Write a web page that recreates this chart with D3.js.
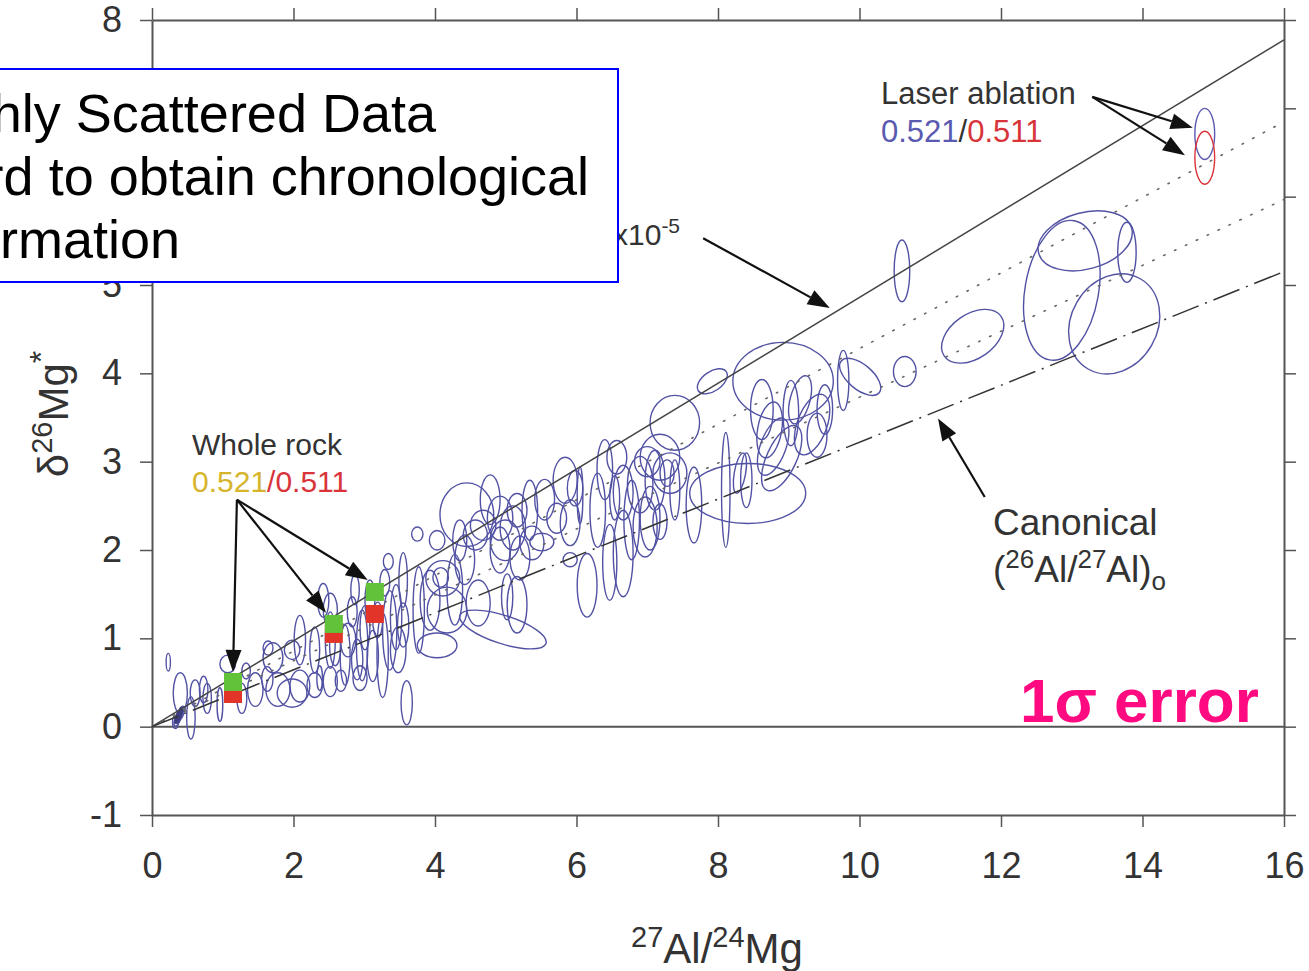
<!DOCTYPE html>
<html>
<head>
<meta charset="utf-8">
<script src="https://cdn.jsdelivr.net/npm/d3@7"></script>
<style>
body { margin: 0; background: #fff; }
svg { display: block; font-family: "Liberation Sans", Arial, Helvetica, sans-serif; }
</style>
</head>
<body>
<script>
// axis ticks
var xTicks = [0, 2, 4, 6, 8, 10, 12, 14, 16];
var yTicks = [-1, 0, 1, 2, 3, 4, 5, 6, 7, 8];

// individual CAI analyses, 1 sigma error ellipses (27Al/24Mg, d26Mg*)
var ellX = [0.37,0.41,0.33,0.23,0.40,0.55,0.61,0.73,0.78,0.96,1.07,1.33,1.46,1.27,1.63,1.71,1.64,1.78,1.98,1.98,
  2.09,2.30,2.30,2.42,2.52,2.37,2.52,2.67,2.77,2.90,2.94,3.01,3.12,3.26,3.34,3.29,3.45,3.55,3.60,3.48,2.59,2.83,3.19,
  4.45,3.75,4.03,3.55,3.77,4.11,4.08,4.17,4.03,4.35,4.57,4.68,4.61,4.96,4.92,5.10,5.16,4.92,5.20,5.16,5.02,5.37,5.51,
  5.72,5.84,5.98,5.91,6.05,5.91,6.15,6.30,6.57,6.47,6.54,6.66,6.66,6.90,7.00,6.97,
  7.92,7.39,8.92,7.18,7.32,7.28,7.39,7.18,7.04,7.66,8.42,8.11,8.31,8.62,8.78,8.90,9.03,9.33,9.40,9.77,10.01,10.64,8.40,
  10.60,11.60,12.86,13.19,13.78,13.60,
  2.73,2.97,3.36,3.08,2.87,3.93,4.28,4.42,4.78,5.34,5.55,4.99,6.40,6.78,7.11,9.16,8.73,9.51,2.09,2.52];
var ellY = [0.10,0.155,0.05,0.73,0.38,0.10,0.38,0.42,0.32,0.25,0.71,0.63,0.42,0.32,0.54,0.78,0.89,0.42,0.38,0.87,
  0.46,0.47,0.87,1.43,1.32,0.55,0.51,0.52,0.98,0.76,0.55,1.12,0.80,0.81,1.87,1.63,1.24,1.15,0.27,0.87,0.92,1.30,1.21,
  2.40,2.18,2.11,1.66,1.32,1.68,1.69,1.32,0.92,2.11,2.17,2.28,1.40,1.10,2.36,2.25,2.45,2.00,1.91,1.38,1.47,2.08,2.09,
  2.36,2.79,2.70,2.31,2.62,1.89,1.60,2.45,3.05,1.86,2.59,2.65,1.96,2.74,3.00,2.26,
  3.91,3.44,3.91,3.05,2.87,2.87,2.68,2.32,2.36,2.51,2.64,2.68,2.87,3.59,3.17,3.04,3.55,3.42,3.30,3.92,3.96,4.02,2.79,
  5.16,4.42,4.94,5.50,5.37,4.56,
  0.81,0.92,1.09,1.43,1.55,1.43,1.55,1.89,2.57,2.45,2.57,2.11,2.91,2.34,2.79,3.70,3.36,3.59,0.98,0.98];
var ellSx = [.04,.04,.04,.03,.10,.06,.07,.06,.06,.04,.11,.06,.11,.07,.08,.14,.07,.17,.21,.11,
  .14,.11,.07,.08,.10,.04,.10,.08,.11,.08,.10,.07,.08,.08,.07,.07,.08,.08,.08,.11,.08,.07,.07,
  .38,.08,.11,.06,.08,.24,.11,.28,.28,.10,.17,.18,.17,.64,.18,.18,.14,.14,.14,.14,.08,.17,.17,
  .14,.17,.11,.14,.04,.10,.14,.11,.14,.10,.07,.14,.14,.18,.18,.17,
  .24,.35,.71,.28,.24,.10,.07,.10,.14,.11,.82,.06,.08,.16,.18,.21,.11,.21,.14,.08,.35,.16,.08,
  .11,.49,.52,.68,.13,.61,
  .07,.08,.10,.07,.06,.14,.11,.14,.14,.11,.14,.21,.11,.11,.14,.14,.17,.11,.08,.07];
var ellSy = [.10,.08,.07,.10,.23,.24,.15,.15,.17,.19,.10,.09,.19,.17,.14,.17,.08,.19,.16,.11,
  .18,.14,.26,.19,.19,.14,.17,.12,.19,.23,.14,.25,.29,.48,.09,.15,.37,.25,.25,.26,.23,.17,.20,
  .36,.08,.11,.31,.49,.20,.11,.26,.14,.23,.17,.17,.26,.16,.25,.25,.19,.26,.25,.32,.26,.19,.10,
  .17,.26,.20,.26,.32,.08,.36,.42,.19,.43,.25,.31,.49,.32,.17,.34,
  .11,.31,.44,.26,.23,.15,.34,.20,.36,.43,.34,.65,.23,.34,.34,.40,.37,.36,.25,.34,.14,.17,.31,
  .35,.25,.80,.32,.34,.59,
  .34,.40,.45,.23,.17,.34,.40,.28,.28,.34,.23,.23,.34,.45,.34,.28,.32,.28,.28,.32];
var ellRot = [20,20,0,0,0,0,0,0,0,0,0,0,0,0,0,0,0,0,0,0,
  0,0,0,0,0,0,0,0,0,0,0,0,0,0,0,0,0,0,0,0,0,0,0,
  0,0,0,0,0,0,0,0,0,0,0,0,0,18,0,0,0,0,0,0,0,0,0,
  0,0,0,0,0,0,0,0,0,0,0,0,0,0,0,0,
  -35,0,0,0,0,0,0,0,0,0,0,0,10,0,20,25,0,20,0,0,40,0,0,
  0,-35,10,-15,0,30,
  0,0,0,0,0,0,0,0,0,0,0,0,0,0,0,15,10,0,0,0];

// dense cluster near the origin
var blobX = [0.37, 0.40];
var blobY = [0.11, 0.16];
var blobSx = [0.035, 0.03];
var blobSy = [0.08, 0.06];

// laser ablation analyses (blue / red)
var laserX = [14.88, 14.88];
var laserY = [6.71, 6.44];
var laserSx = [0.14, 0.14];
var laserSy = [0.29, 0.30];
var laserColor = ["#5a5ab0", "#d8343a"];

// whole rock points
var wrX = [1.145, 2.57, 3.15];
var wrRed = [0.37, 1.05, 1.276];
var wrGreen = [0.506, 1.163, 1.525];

// reference isochrons through the origin (slopes)
var isoSlope = [0.486, 0.428, 0.373, 0.322];
var isoDash = [null, "1.5,10.5", "1.5,10.5", "28,7,2,7"];
var isoColor = ["#444", "#666", "#666", "#333"];

// annotation arrows [x1, y1, x2, y2] in data units
var arrows = [
  [7.79, 5.53, 9.58, 4.74],
  [13.29, 7.13, 14.71, 6.78],
  [13.29, 7.13, 14.60, 6.47],
  [1.20, 2.57, 1.145, 0.62],
  [1.20, 2.57, 2.46, 1.29],
  [1.20, 2.57, 3.05, 1.66],
  [11.77, 2.60, 11.11, 3.49]
];

var W = 1309, H = 971;
var svg = d3.select("body").append("svg")
    .attr("width", W)
    .attr("height", H);

var x = d3.scaleLinear().domain([0, 16]).range([152, 1284]);
var y = d3.scaleLinear().domain([-1, 8]).range([815, 20]);

function styleAxis(g) {
    g.attr("font-family", null).attr("font-size", 36);
    g.selectAll("path.domain").attr("stroke", "#555").attr("stroke-width", 2);
    g.selectAll(".tick line").attr("stroke", "#555").attr("stroke-width", 1.5);
    g.selectAll(".tick text").attr("fill", "#333");
}

svg.append("g")
    .attr("transform", "translate(0," + y(-1) + ")")
    .call(d3.axisBottom(x).tickValues(xTicks).tickSize(12).tickSizeOuter(0).tickPadding(25))
    .call(styleAxis);
svg.append("g")
    .attr("transform", "translate(0," + y(8) + ")")
    .call(d3.axisTop(x).tickValues(xTicks).tickSize(12).tickSizeOuter(0).tickFormat(""))
    .call(styleAxis);
svg.append("g")
    .attr("transform", "translate(" + x(0) + ",0)")
    .call(d3.axisLeft(y).tickValues(yTicks).tickSize(12).tickSizeOuter(0).tickPadding(18)
        .tickFormat(function(d) { return String(d); }))
    .call(styleAxis);
svg.append("g")
    .attr("transform", "translate(" + x(16) + ",0)")
    .call(d3.axisRight(y).tickValues(yTicks).tickSize(12).tickSizeOuter(0).tickFormat(""))
    .call(styleAxis);

// zero line
svg.append("line")
    .attr("x1", x(0)).attr("x2", x(16))
    .attr("y1", y(0)).attr("y2", y(0))
    .attr("stroke", "#555").attr("stroke-width", 2);

// error ellipses
svg.append("g")
    .selectAll("ellipse")
    .data(d3.range(ellX.length))
    .join("ellipse")
    .attr("transform", function(i) {
        return "translate(" + x(ellX[i]) + "," + y(ellY[i]) + ") rotate(" + ellRot[i] + ")";
    })
    .attr("rx", function(i) { return x(ellSx[i]) - x(0); })
    .attr("ry", function(i) { return y(0) - y(ellSy[i]); })
    .attr("fill", "none")
    .attr("stroke", "#5252a4")
    .attr("stroke-width", 1.4);

svg.append("g")
    .selectAll("ellipse")
    .data(d3.range(blobX.length))
    .join("ellipse")
    .attr("transform", function(i) {
        return "translate(" + x(blobX[i]) + "," + y(blobY[i]) + ") rotate(20)";
    })
    .attr("rx", function(i) { return x(blobSx[i]) - x(0); })
    .attr("ry", function(i) { return y(0) - y(blobSy[i]); })
    .attr("fill", "#3c3c80")
    .attr("stroke", "#3c3c80");

// isochron lines
var line = d3.line()
    .x(function(d) { return x(d[0]); })
    .y(function(d) { return y(d[1]); });

svg.append("g")
    .selectAll("path")
    .data(isoSlope)
    .join("path")
    .attr("d", function(s) { return line([[0, 0], [16, s * 16]]); })
    .attr("fill", "none")
    .attr("stroke", function(s, i) { return isoColor[i]; })
    .attr("stroke-width", function(s, i) { return isoDash[i] && isoDash[i].charAt(0) === "1" ? 1.6 : 1.5; })
    .attr("stroke-linecap", function(s, i) { return isoDash[i] && isoDash[i].charAt(0) === "1" ? "round" : "butt"; })
    .attr("stroke-dasharray", function(s, i) { return isoDash[i]; });

// laser ablation ellipses
svg.append("g")
    .selectAll("ellipse")
    .data(d3.range(laserX.length))
    .join("ellipse")
    .attr("cx", function(i) { return x(laserX[i]); })
    .attr("cy", function(i) { return y(laserY[i]); })
    .attr("rx", function(i) { return x(laserSx[i]) - x(0); })
    .attr("ry", function(i) { return y(0) - y(laserSy[i]); })
    .attr("fill", "none")
    .attr("stroke", function(i) { return laserColor[i]; })
    .attr("stroke-width", 1.4);

// whole rock squares
var sq = 18;
svg.append("g")
    .selectAll("rect")
    .data(wrX)
    .join("rect")
    .attr("x", function(d) { return x(d) - sq / 2; })
    .attr("y", function(d, i) { return y(wrRed[i]) - sq / 2; })
    .attr("width", sq).attr("height", sq)
    .attr("fill", "#e3342a");
svg.append("g")
    .selectAll("rect")
    .data(wrX)
    .join("rect")
    .attr("x", function(d) { return x(d) - sq / 2; })
    .attr("y", function(d, i) { return y(wrGreen[i]) - sq / 2; })
    .attr("width", sq).attr("height", sq)
    .attr("fill", "#62c23a");

// arrows
var ag = svg.append("g");
arrows.forEach(function(a) {
    var x1 = x(a[0]), y1 = y(a[1]), x2 = x(a[2]), y2 = y(a[3]);
    var ang = Math.atan2(y2 - y1, x2 - x1);
    var len = 22, hw = 8;
    var bx = x2 - len * Math.cos(ang), by = y2 - len * Math.sin(ang);
    ag.append("line")
        .attr("x1", x1).attr("y1", y1).attr("x2", bx).attr("y2", by)
        .attr("stroke", "#111").attr("stroke-width", 2.2);
    ag.append("path")
        .attr("d", "M" + x2 + "," + y2 +
            "L" + (bx + hw * Math.sin(ang)) + "," + (by - hw * Math.cos(ang)) +
            "L" + (bx - hw * Math.sin(ang)) + "," + (by + hw * Math.cos(ang)) + "Z")
        .attr("fill", "#111");
});

// labels
var lab = svg.append("g").attr("fill", "#333");

lab.append("text").attr("x", 881).attr("y", 104).attr("font-size", 31).text("Laser ablation");
var t = lab.append("text").attr("x", 881).attr("y", 142).attr("font-size", 31);
t.append("tspan").attr("fill", "#5a5ab0").text("0.521");
t.append("tspan").text("/");
t.append("tspan").attr("fill", "#d8343a").text("0.511");

lab.append("text").attr("x", 192).attr("y", 455).attr("font-size", 30).text("Whole rock");
t = lab.append("text").attr("x", 192).attr("y", 492).attr("font-size", 30);
t.append("tspan").attr("fill", "#d6b52c").text("0.521");
t.append("tspan").attr("fill", "#d8343a").text("/0.511");

t = lab.append("text").attr("x", 613).attr("y", 245).attr("font-size", 30);
t.append("tspan").text("x10");
t.append("tspan").attr("font-size", 21).attr("dy", -12).text("-5");

lab.append("text").attr("x", 993).attr("y", 535).attr("font-size", 37).text("Canonical");
t = lab.append("text").attr("x", 993).attr("y", 582).attr("font-size", 37);
t.append("tspan").text("(");
t.append("tspan").attr("font-size", 26).attr("dy", -14).text("26");
t.append("tspan").attr("dy", 14).text("Al/");
t.append("tspan").attr("font-size", 26).attr("dy", -14).text("27");
t.append("tspan").attr("dy", 14).text("Al)");
t.append("tspan").attr("font-size", 26).attr("dy", 8).text("o");

svg.append("text")
    .attr("x", 1020).attr("y", 722)
    .attr("font-size", 62).attr("font-weight", "bold")
    .attr("fill", "#ff0a80")
    .text("1\u03c3 error");

// axis titles
t = lab.append("text").attr("x", 717).attr("y", 963).attr("font-size", 42).attr("text-anchor", "middle");
t.append("tspan").attr("font-size", 29).attr("dy", -16).text("27");
t.append("tspan").attr("dy", 16).text("Al/");
t.append("tspan").attr("font-size", 29).attr("dy", -16).text("24");
t.append("tspan").attr("dy", 16).text("Mg");

t = lab.append("text").attr("transform", "translate(68,414) rotate(-90)")
    .attr("font-size", 42).attr("text-anchor", "middle");
t.append("tspan").text("\u03b4");
t.append("tspan").attr("font-size", 29).attr("dy", -16).text("26");
t.append("tspan").attr("dy", 16).text("Mg");
t.append("tspan").attr("font-size", 32).attr("dy", -16).text("*");

// overlaid text box
var box = svg.append("g");
box.append("rect")
    .attr("x", -10).attr("y", 69).attr("width", 628).attr("height", 213)
    .attr("fill", "#fff").attr("stroke", "#0000ff").attr("stroke-width", 2);
var boxLines = ["Highly Scattered Data", "Hard to obtain chronological", "information"];
var boxEnds = [436, 589, 180];
box.selectAll("text")
    .data(boxLines)
    .join("text")
    .attr("x", function(d, i) { return boxEnds[i]; })
    .attr("y", function(d, i) { return 132 + i * 63; })
    .attr("text-anchor", "end")
    .attr("font-size", 54)
    .attr("fill", "#000")
    .text(function(d) { return d; });
</script>
</body>
</html>
